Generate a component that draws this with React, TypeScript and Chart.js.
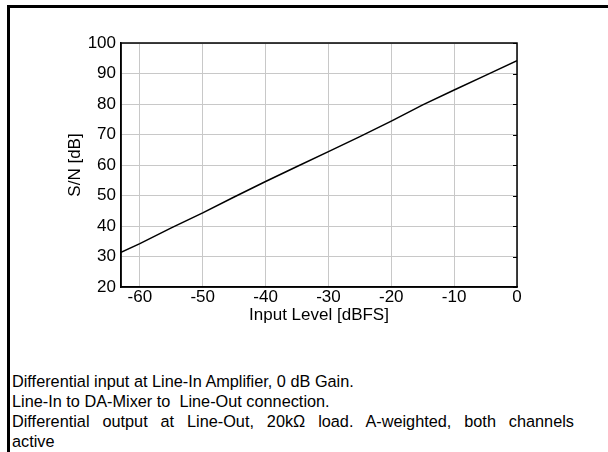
import React, { useEffect, useRef } from "react";
import { Chart, registerables } from "chart.js";

Chart.register(...registerables);

const inputLevel = [-63, -60, -55, -50, -45, -40, -35, -30, -25, -20, -15, -10, -5, 0];
const snValues = [31.4, 34.2, 39.4, 44.3, 49.5, 54.6, 59.5, 64.4, 69.3, 74.4, 79.7, 84.6, 89.4, 94.2];
const xTickValues = [-60, -50, -40, -30, -20, -10, 0];
const yTickValues = [20, 30, 40, 50, 60, 70, 80, 90, 100];
const xTitle = "Input Level [dBFS]";
const yTitle = "S/N [dB]";
const notes = [
  "Differential input at Line-In Amplifier, 0 dB Gain.",
  "Line-In to DA-Mixer to  Line-Out connection.",
  "Differential output at Line-Out, 20k\u03A9 load. A-weighted, both channels",
  "active",
];

const FONT = "'Liberation Sans', Arial, sans-serif";

const boxPlugin = {
  id: "boxPlugin",
  afterDatasetsDraw(chart: any) {
    const { ctx, chartArea } = chart;
    const ys = chart.scales.y;
    ctx.save();
    ctx.strokeStyle = "#000";
    ctx.lineWidth = 1.5;
    ctx.strokeRect(chartArea.left, chartArea.top, chartArea.right - chartArea.left, chartArea.bottom - chartArea.top);
    ctx.lineWidth = 1;
    ys.ticks.forEach((t: any) => {
      const py = Math.round(ys.getPixelForValue(t.value)) + 0.5;
      ctx.beginPath();
      ctx.moveTo(chartArea.right - 4, py);
      ctx.lineTo(chartArea.right, py);
      ctx.stroke();
    });
    ctx.restore();
  },
};

export default function App() {
  const ref = useRef<HTMLCanvasElement>(null);
  useEffect(() => {
    if (!ref.current) return;
    const chart = new Chart(ref.current, {
      type: "line",
      data: {
        datasets: [
          {
            data: inputLevel.map((x, i) => ({ x, y: snValues[i] })),
            borderColor: "#000",
            borderWidth: 1.5,
            pointRadius: 0,
            tension: 0,
            fill: false,
          },
        ],
      },
      options: {
        responsive: false,
        animation: false,
        devicePixelRatio: 1,
        layout: { padding: { left: 61, right: 91, top: 43, bottom: 10 } },
        plugins: { legend: { display: false }, tooltip: { enabled: false } },
        scales: {
          x: {
            type: "linear",
            min: -63,
            max: 0,
            afterBuildTicks: (s: any) => {
              s.ticks = xTickValues.map((v) => ({ value: v }));
            },
            afterFit: (s: any) => {
              s.height = 43;
            },
            grid: { color: "#c8c8c8", lineWidth: 1, drawTicks: false },
            border: { color: "#000", width: 1.5 },
            ticks: { color: "#000", font: { family: FONT, size: 17 }, padding: 0, maxRotation: 0 },
            title: { display: true, text: xTitle, color: "#000", font: { family: FONT, size: 17 } },
          },
          y: {
            type: "linear",
            min: 20,
            max: 100,
            afterBuildTicks: (s: any) => {
              s.ticks = yTickValues.map((v) => ({ value: v }));
            },
            afterFit: (s: any) => {
              s.width = 60;
            },
            grid: { color: "#c8c8c8", lineWidth: 1, drawTicks: false },
            border: { color: "#000", width: 1.5 },
            ticks: { color: "#000", font: { family: FONT, size: 17 }, padding: 5 },
            title: { display: true, text: yTitle, color: "#000", font: { family: FONT, size: 17 } },
          },
        },
      },
      plugins: [boxPlugin],
    });
    return () => chart.destroy();
  }, []);

  return (
    <div style={{ position: "fixed", left: 0, top: 0, width: 608, height: 452, background: "#fff", overflow: "hidden", fontFamily: FONT }}>
      <div style={{ position: "absolute", left: 7, top: 5, width: 601, height: 3, background: "#000" }} />
      <div style={{ position: "absolute", left: 7, top: 5, width: 3, height: 447, background: "#000" }} />
      <canvas ref={ref} width={608} height={340} style={{ position: "absolute", left: 0, top: 0, width: 608, height: 340 }} />
      <div style={{ position: "absolute", left: 12, top: 371, width: 562, fontSize: 16.3, lineHeight: "20px", color: "#000" }}>
        {notes.map((n, i) => (
          <div
            key={i}
            style={
              i === 2
                ? { textAlign: "justify", textAlignLast: "justify", whiteSpace: "nowrap" as const }
                : { whiteSpace: "pre" as const }
            }
          >
            {n}
          </div>
        ))}
      </div>
    </div>
  );
}
